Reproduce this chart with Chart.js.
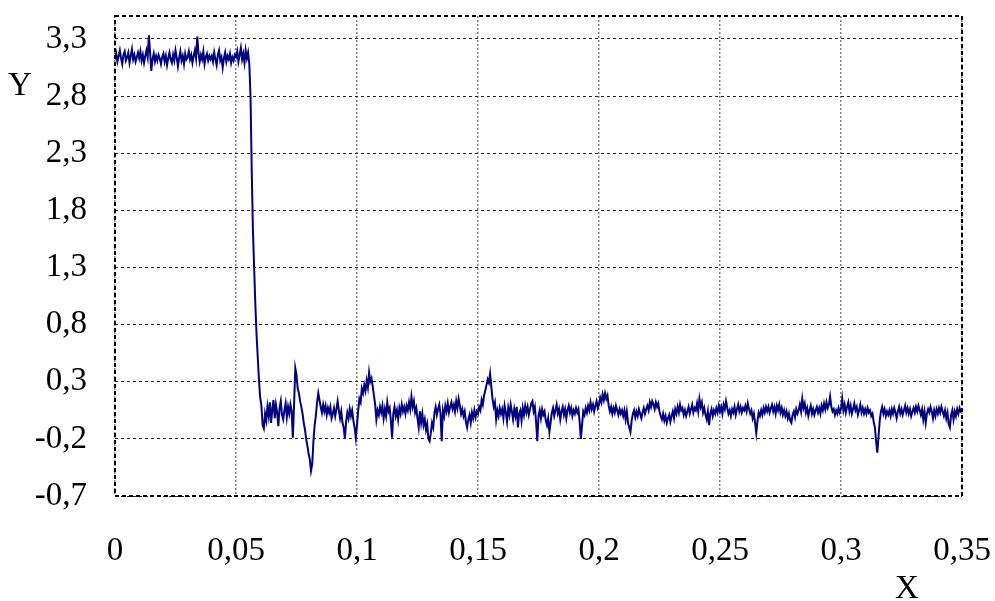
<!DOCTYPE html>
<html>
<head>
<meta charset="utf-8">
<script src="https://cdn.jsdelivr.net/npm/chart.js@4.4.0/dist/chart.umd.min.js"></script>
<style>
  html, body { margin: 0; padding: 0; background: #fff; }
  #wrap { width: 995px; height: 601px; }
</style>
</head>
<body>
<div id="wrap"><canvas id="signalChart" width="995" height="601"></canvas></div>
<script>
// шаг дискретизации сигнала по оси X
const sampleInterval = 0.0005;

// значения сигнала, строка = 0,01 по X (20 отсчётов)
const signalY = [
  3.12,3.17,3.10,3.15,3.20,3.13,3.08,3.16,3.19,3.11,3.14,3.18,3.09,3.15,3.21,3.12,3.16,3.10,3.14,3.18,
  3.13,3.19,3.11,3.16,3.09,3.15,3.20,3.14,3.33,3.18,3.02,3.12,3.17,3.10,3.15,3.11,3.16,3.13,3.08,3.14,
  3.17,3.10,3.15,3.07,3.13,3.18,3.12,3.09,3.16,3.11,3.20,3.14,3.06,3.13,3.19,3.11,3.15,3.08,3.17,3.12,
  3.14,3.19,3.12,3.16,3.09,3.15,3.20,3.13,3.32,3.18,3.10,3.16,3.12,3.19,3.08,3.14,3.17,3.11,3.15,3.12,
  3.15,3.10,3.18,3.12,3.07,3.16,3.20,3.11,3.14,3.05,3.13,3.18,3.10,3.15,3.12,3.17,3.09,3.14,3.11,3.16,
  3.14,3.19,3.10,3.16,3.22,3.12,3.17,3.09,3.20,3.13,3.18,3.08,2.80,2.15,1.62,1.30,0.97,0.71,0.51,0.31,
  0.16,0.09,-0.08,-0.11,0.02,-0.04,0.08,0.00,0.12,-0.06,0.06,0.14,-0.02,0.10,0.03,-0.09,0.07,0.13,0.01,-0.03,
  0.05,0.11,-0.01,0.08,0.02,0.10,0.04,-0.19,0.10,0.42,0.36,0.24,0.20,0.13,0.08,0.02,-0.06,-0.12,-0.20,-0.26,
  -0.33,-0.38,-0.48,-0.42,-0.22,-0.08,0.00,0.12,0.20,0.14,0.08,0.03,0.10,0.04,0.09,0.01,0.07,0.03,0.08,-0.02,
  0.02,0.07,0.00,0.06,0.13,0.05,-0.02,0.04,-0.06,-0.10,-0.20,-0.05,0.03,-0.02,0.06,0.00,0.05,-0.04,-0.10,-0.19,
  -0.08,0.05,0.15,0.12,0.24,0.20,0.27,0.22,0.31,0.25,0.38,0.30,0.33,0.26,0.18,0.10,-0.03,0.05,0.01,0.08,
  0.03,0.09,-0.02,0.06,0.00,0.12,0.04,0.07,-0.04,-0.19,0.02,0.08,0.00,0.05,-0.03,0.07,0.02,0.10,0.04,0.08,
  0.02,0.09,0.05,0.12,0.06,0.17,0.08,0.13,0.03,0.07,-0.02,-0.10,0.04,-0.06,0.02,-0.08,-0.03,-0.12,-0.07,-0.20,
  -0.22,-0.15,-0.06,-0.10,0.03,0.08,0.01,0.06,0.10,0.02,-0.22,0.05,0.00,0.09,0.04,0.11,0.03,0.08,0.12,0.06,
  0.10,0.04,0.13,0.07,0.15,0.09,0.02,0.06,0.00,0.04,-0.05,-0.10,-0.03,0.01,-0.06,0.03,-0.02,0.05,-0.01,0.04,
  0.02,0.08,0.05,0.14,0.10,0.18,0.22,0.27,0.32,0.29,0.37,0.26,0.15,0.08,0.12,-0.03,0.05,0.00,0.07,0.02,
  0.06,-0.02,0.09,0.03,-0.05,0.07,0.01,0.10,0.04,-0.03,0.06,0.00,0.08,-0.10,0.02,0.05,-0.04,0.07,0.01,0.09,
  0.03,0.08,0.01,0.06,0.11,0.13,0.04,0.08,-0.05,-0.22,0.00,0.05,-0.02,0.06,0.01,0.04,-0.04,-0.08,-0.02,-0.14,
  -0.06,0.03,0.07,0.00,0.05,0.10,0.02,0.06,-0.03,0.04,0.08,0.01,0.06,-0.02,0.05,0.09,0.03,0.07,0.00,0.05,
  0.02,0.07,0.03,0.06,-0.05,-0.20,-0.08,0.04,0.01,0.07,0.03,0.09,0.05,0.12,0.06,0.10,0.04,0.09,0.13,0.07,
  0.10,0.16,0.12,0.19,0.14,0.20,0.15,0.18,0.09,0.04,0.08,0.02,0.07,0.03,0.09,0.05,0.01,0.06,0.02,0.05,
  0.00,0.05,-0.03,0.04,-0.06,-0.10,-0.14,-0.04,0.02,0.05,-0.01,0.04,0.00,0.06,0.02,-0.02,0.03,0.07,0.02,0.06,
  0.09,0.05,0.12,0.08,0.13,0.10,0.06,0.12,0.08,0.11,0.04,0.00,-0.03,0.02,-0.04,0.00,-0.06,-0.02,0.01,-0.05,
  0.00,0.04,-0.02,0.06,0.02,0.08,0.03,0.10,0.05,0.07,0.01,0.05,0.00,0.04,0.08,0.02,0.06,0.10,0.03,0.07,
  0.05,0.11,0.04,0.15,0.08,0.12,0.03,0.07,0.01,-0.03,0.04,-0.08,0.02,0.06,0.00,0.05,0.02,0.07,0.03,0.09,
  0.04,0.08,0.02,0.10,0.06,0.13,0.07,0.02,0.05,0.00,0.06,0.03,0.08,0.01,0.06,0.10,0.04,0.08,0.03,0.07,
  0.05,0.09,0.04,0.11,0.06,0.02,0.05,-0.02,0.02,-0.06,-0.15,-0.04,0.03,0.00,0.05,0.01,0.07,0.03,0.08,0.04,
  0.08,0.03,0.07,0.10,0.04,0.08,0.02,0.09,0.05,0.10,0.03,0.07,0.01,0.05,0.00,0.04,-0.02,0.02,-0.04,-0.06,
  0.01,0.04,-0.01,0.06,0.02,0.05,0.10,0.04,0.15,0.07,0.11,0.03,0.07,0.00,0.05,0.09,0.02,0.06,0.01,0.05,
  0.08,0.03,0.07,0.02,0.09,0.05,0.11,0.06,0.12,0.07,0.10,0.17,0.08,0.04,0.06,0.01,0.05,0.02,0.07,0.03,
  0.06,0.15,0.05,0.10,0.03,0.08,0.12,0.04,0.09,0.02,0.06,0.11,0.05,0.08,0.01,0.05,0.10,0.03,0.07,0.02,
  0.06,0.02,0.07,0.03,0.05,0.00,0.02,-0.05,-0.10,-0.22,-0.32,-0.18,-0.04,0.04,0.08,0.02,0.06,0.00,0.04,0.01,
  0.05,0.00,0.06,0.02,0.07,0.03,-0.02,0.04,0.08,0.02,0.06,0.01,0.05,0.09,0.03,0.07,0.02,0.06,0.00,0.04,
  0.07,0.03,0.08,0.04,0.09,0.05,0.01,0.06,-0.03,0.04,-0.06,0.02,0.06,0.03,0.08,0.04,-0.02,0.05,0.00,0.06,
  0.02,0.07,0.03,0.08,0.04,0.00,0.05,-0.02,0.03,-0.07,-0.10,0.01,0.05,-0.03,0.04,0.00,0.06,0.02,0.07,0.04,
  0.05
];

const xTicks = [0, 0.05, 0.1, 0.15, 0.2, 0.25, 0.3, 0.35];
const xTickLabels = ['0', '0,05', '0,1', '0,15', '0,2', '0,25', '0,3', '0,35'];
const yTicks = [-0.7, -0.2, 0.3, 0.8, 1.3, 1.8, 2.3, 2.8, 3.3];
const yTickLabels = ['-0,7', '-0,2', '0,3', '0,8', '1,3', '1,8', '2,3', '2,8', '3,3'];

const FONT = 'Liberation Serif, Times New Roman, serif';

const points = signalY.map((v, i) => ({ x: i * sampleInterval, y: v }));

// рамка пунктиром и подписи осей
const framePlugin = {
  id: 'frame',
  afterDraw(chart) {
    const { ctx, chartArea: a } = chart;
    ctx.save();
    ctx.strokeStyle = '#000';
    ctx.lineWidth = 2;
    ctx.setLineDash([4, 3]);
    ctx.strokeRect(a.left, a.top, a.right - a.left, a.bottom - a.top);
    ctx.setLineDash([]);
    ctx.fillStyle = '#000';
    ctx.font = '33px ' + FONT;
    ctx.textAlign = 'center';
    ctx.textBaseline = 'middle';
    ctx.fillText('Y', 20, 86);
    ctx.fillText('X', 907, 589);
    ctx.restore();
  }
};

new Chart(document.getElementById('signalChart'), {
  type: 'line',
  data: {
    datasets: [{
      data: points,
      borderColor: '#000080',
      borderWidth: 2,
      pointRadius: 0,
      tension: 0,
      fill: false
    }]
  },
  options: {
    responsive: false,
    animation: false,
    parsing: false,
    layout: { padding: { left: 0, right: 33, top: 16, bottom: 0 } },
    plugins: { legend: { display: false }, tooltip: { enabled: false } },
    scales: {
      x: {
        type: 'linear',
        min: 0,
        max: 0.35,
        afterBuildTicks(scale) { scale.ticks = xTicks.map(v => ({ value: v })); },
        afterFit(scale) {
          scale.height = 105;
          scale.paddingLeft = 0;
          scale.paddingRight = 0;
        },
        ticks: {
          padding: 36,
          color: '#000',
          font: { family: FONT, size: 33 },
          maxRotation: 0,
          autoSkip: false,
          callback: (v, i) => xTickLabels[i]
        },
        grid: { color: '#808080', lineWidth: 1.5, drawTicks: false },
        border: { display: false, dash: [2, 2] }
      },
      y: {
        min: -0.7,
        max: 3.5,
        afterBuildTicks(scale) { scale.ticks = yTicks.map(v => ({ value: v })); },
        afterFit(scale) {
          scale.width = 115;
          scale.paddingTop = 0;
          scale.paddingBottom = 0;
        },
        ticks: {
          padding: 28,
          color: '#000',
          font: { family: FONT, size: 33 },
          autoSkip: false,
          callback: (v, i) => yTickLabels[i]
        },
        grid: { color: '#222', lineWidth: 1, drawTicks: false },
        border: { display: false, dash: [3, 3] }
      }
    }
  },
  plugins: [framePlugin]
});
</script>
</body>
</html>
